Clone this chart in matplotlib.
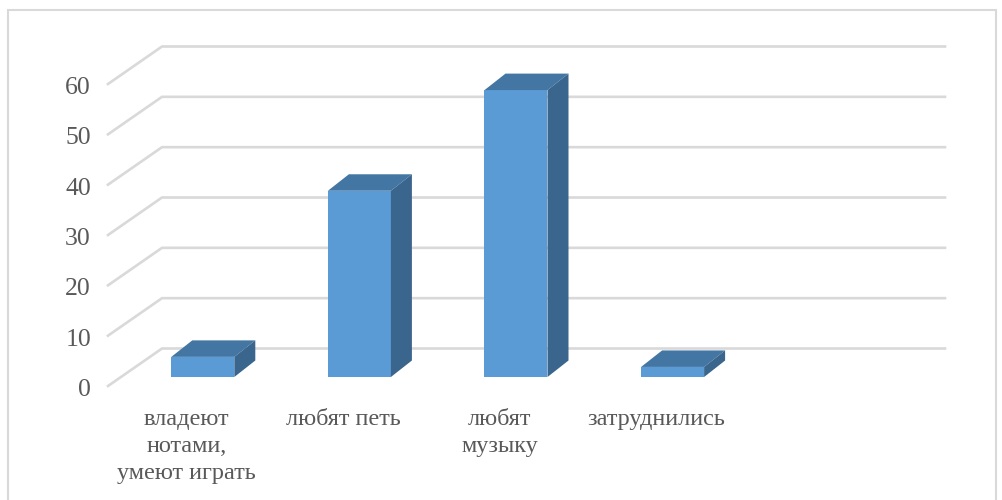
import numpy as np
import matplotlib
matplotlib.use('Agg')
import matplotlib.pyplot as plt
from matplotlib.patches import Polygon, Rectangle

# данные диаграммы
categories = ['владеют\nнотами,\nумеют играть', 'любят петь', 'любят\nмузыку', 'затруднились']
values = [4, 37, 57, 2]
y_ticks = [0, 10, 20, 30, 40, 50, 60]

W, H = 1003, 500
plt.rcParams['font.family'] = ['Liberation Serif', 'DejaVu Serif']

fig = plt.figure(figsize=(W / 100, H / 100), dpi=100)
# передняя плоскость: x 108..891, y 386..84 в пикселях
ax = fig.add_axes([108 / W, 1 - 386 / H, 783 / W, 302 / H])
ax.set_xlim(0, 5)
ax.set_ylim(0, 60)
ax.axis('off')

# пересчёт смещений из пикселей в единицы данных
px_x = 5 / 783
px_y = 60 / 302
wall_dx, wall_dy = 54 * px_x, 37.5 * px_y
bar_w = 63 * px_x
bar_shift_x, bar_shift_y = 16.5 * px_x, 9 * px_y
depth_x, depth_y = 21 * px_x, 16.5 * px_y

grid_color = '#d9d9d9'
for v in y_ticks:
    ax.plot([0, wall_dx, 5 + wall_dx], [v, v + wall_dy, v + wall_dy],
            color=grid_color, lw=1.9, clip_on=False, solid_joinstyle='miter', zorder=1)
    ax.text(-17 * px_x, v - 4 * px_y, str(v), ha='right', va='center', fontsize=18.5,
            color='#595959', clip_on=False)

front = '#5b9bd5'
top = '#4476a3'
side = '#3a658c'
for i, (name, v) in enumerate(zip(categories, values)):
    x0 = i + 0.5 - bar_w / 2 + bar_shift_x
    x1 = x0 + bar_w
    y0 = bar_shift_y
    y1 = y0 + v
    ax.add_patch(Rectangle((x0, y0), bar_w, v, fc=front, ec='none', clip_on=False, zorder=3))
    ax.add_patch(Polygon([(x0, y1), (x1, y1), (x1 + depth_x, y1 + depth_y), (x0 + depth_x, y1 + depth_y)],
                         fc=top, ec='none', clip_on=False, zorder=3))
    ax.add_patch(Polygon([(x1, y0), (x1, y1), (x1 + depth_x, y1 + depth_y), (x1 + depth_x, y0 + depth_y)],
                         fc=side, ec='none', clip_on=False, zorder=3))
    ax.text(i + 0.5, -23 * px_y, name, ha='center', va='top', fontsize=17.5,
            color='#595959', linespacing=1.38, clip_on=False)

# рамка диаграммы
fig.add_artist(Rectangle((8 / W, -0.01), (996 - 8) / W, 1 - 10 / H + 0.01, transform=fig.transFigure,
                         fc='none', ec='#d9d9d9', lw=1.5))

fig.savefig('out.png', dpi=100, facecolor='white')
